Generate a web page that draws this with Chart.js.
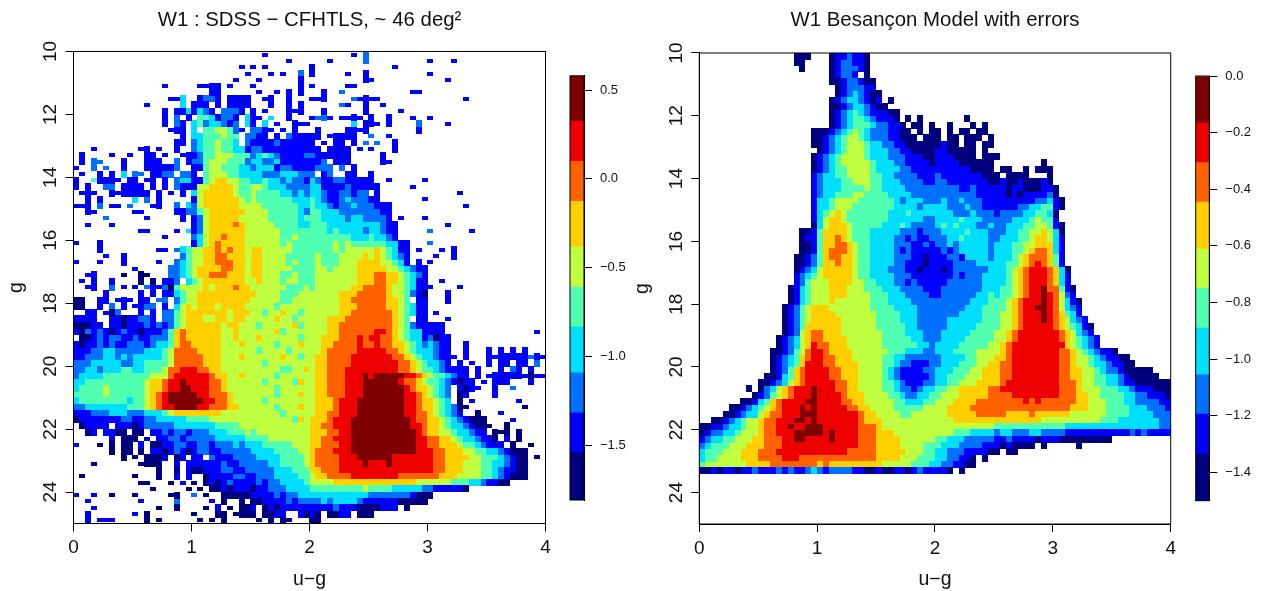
<!DOCTYPE html>
<html>
<head>
<meta charset="utf-8">
<title>W1 colour-magnitude</title>
<script src="https://cdn.jsdelivr.net/npm/chart.js@4/dist/chart.umd.js"></script>
<style>
    html, body { margin: 0; padding: 0; background: #fff; }
    #page { position: relative; width: 1276px; height: 591px; overflow: hidden; }
    canvas { position: absolute; }
</style>
</head>
<body>
<div id="page">
    <canvas id="leftHeat" width="560" height="591" style="left:0;top:0"></canvas>
    <canvas id="leftBar" width="70" height="460" style="left:560px;top:60px"></canvas>
    <canvas id="rightHeat" width="560" height="591" style="left:626px;top:0"></canvas>
    <canvas id="rightBar" width="90" height="460" style="left:1185px;top:60px"></canvas>
</div>
<script>
// colour level of each cell: '.' empty, 0-9 index into levelColors
// one string per 0.2 mag row, space separated groups of ten 0.05 wide columns
const leftRows = [
    ". . . ..1 .......1.2",
    ". . . ......1 ...1.....2 . 1...1",
    ". . ........1. 1.1 1 ....1",
    ". . .........1 ...1.1..2 1.....1..1 . 1",
    ". . .......1 .1......1 .........1 1 ...1",
    ". .....1 .1111.1 1.......1 1.....11",
    ". . ...11 .1..1.1.1 ..1..2 .......11",
    ". ......113 .1221.1111 ..11..1 111....211 11 ......1",
    ". ..1.....3 111.1.1111 ...1..1.1 .....21..1 ..1",
    ". .....1.113 1321.2221 1.1...111 ..1......1 .....1",
    ". .....1.2.1 .4431221.3 11.3..1 1221.1111 1..1...1 1",
    ". .....1.21 34233212.3 1.3.1..111 .......3.1 11.1....2 ...1",
    ". ......111 3.4455421 2211.1.1 .1....1111 ........1",
    ". ........1 33444544.2 211.1.2111 11.11111 2..1",
    ". .......11 23445443.2 1111211111 1.1.11.1.2 .2..1",
    "...1 .11.1..1 2344544331 2211111111 11.1111.1 1...1",
    ".1....1..1 ..11.1..11 1244555444 2343211112 2111111 ..1",
    ".1.22...1 ..111..2.1 2245554442 3322311111 112.111 ..11",
    "1..2.2..1 ..111112 1145544433 2333122111 1222.2.1",
    ".1..1.1.3 22.1122.22 1.45554433 3322233322 2.12..11 1",
    "1..41111.1 1.11.1.233 1145665544 3343323221 3211221111 1..1.....1",
    "1.1..22.11 11.1.1.211 1556666544 5543332222 3311112111 11.....1",
    ".111..1111 111.1.1.1 3566666544 5444433232 3321122122 .1 .....1",
    "..1.1 3.2.1 1566666654 5444444333 4321123222 11.......1",
    "111.2.11.2 ...11..2.3 2566666655 5544444433 4332122322 2111 ......1",
    "..11 11.....112 2456666665 5554444432 4433322222 2211",
    ".....2 ..1.....1 1256666655 5554444434 4433332332 2221.1...1",
    "..1...1 . 1256666765 5555444433 4443333333 33211 ...1",
    ". .11....1.3 1256666665 5555544444 4443433332 33211 2......1",
    ". .....1 2356676665 5555544544 4444444333 43321",
    "1...1 . 1356766665 5555545444 4444545444 4443311 2",
    "....1 ....11.234 5566767665 6655555444 4444545555 5654311.1 ..1.1",
    ".....1..1 ........24 5566776665 6655554444 4544455556 5654321 .1..1",
    "1...1...1 ....1..234 5566777665 6655554544 4544455566 6655431.1 1",
    ". 1.....2234 5666677665 6655555444 4554555566 6665543211",
    "..11....0 .00...2234 5667776665 6655544544 4555555566 6776654321",
    ".1.1..1 .0.0.112.3 4566666665 5655545544 4555555566 6776654311 ..1",
    "..11..2.1 1.21120455 5565666766 5555554445 4555555667 7776554311 1....1",
    ".....1 .1.1.11345 5666666666 6555544455 5555566677 7776554210 ...1",
    "00..11.111 .11.22.245 5666666666 5555544555 5555566777 7776654.11 ...1",
    "00..1.2.1 1122.1.356 5666566665 5555455555 5555566677 7776654311",
    "..11.102 .1.1.22456 6666665666 5545565545 5555566777 7777654311 .1",
    "1111..1101 1221.22456 6655665665 5555655455 5556667777 7777654.11 ...1",
    "00011.1101 1121212456 6666656655 5455555645 5556677777 7777654211 111",
    "1021210121 1011124676 6666655655 5555645555 5556677777 7887654331 111 ........1",
    ".001212211 2112224676 6666655655 5655555545 5566677787 8877654331 2011",
    "1011212112 2212334677 6666655565 5555455565 5566777787 7877665432 3211..1",
    "1112233222 2233345777 7666655555 5455554555 5567777788 8887765433 3211..1 1.1.1.1",
    "1122233232 3333345777 7766655565 5555565545 5667777888 8888776543 32111.1 1111111211",
    "2223333322 3344445777 7766655555 5545555555 5667777888 8888877654 3321.1.1 1.11.11.2",
    "2233233344 3344457788 8776655555 5555544556 5667778888 8888877654 4321111.1 ..1.21.1",
    "2333344444 4445557888 8887665565 5555455555 5667778889 8999998876 5443211.1 1111111011",
    "3344444444 4456678898 8887765555 5545555465 5667778889 9999987765 44321011.1 .111...1",
    "3444454444 4456678899 8887765555 5555455555 5667778889 9999998766 5432.1011. .1..2",
    "4444454444 4456789999 9887776555 5555455565 5667778889 9999998876 5432.01 .1",
    "3444444443 4456789999 9988776555 5545555555 5666788899 9999998876 6543.0.1 .....1",
    "2233333334 4456788999 9887776655 5555455565 5666788899 9999998876 6543200 ......0",
    "1112223332 2233345666 6666655555 5555545555 5667788899 9999998877 654321..0 ..1",
    "0111111122 1122333334 4445555555 5555555465 6667888999 9999999877 6654321000 ....1",
    ".01111.111 0122222333 3333444455 5555555555 6677888999 9999999887 6654332100 0..0",
    "..01.1100. 00.1121221 2223334445 4555555555 6667788999 9999999987 6655433211 .000.0",
    "......1.00 0.1.112212 2222333334 4445555555 6677888999 9999999988 7766543321 10.1.0",
    "1...0.0.00 .1.0011221 1221222323 3344444555 6677788999 9999999988 7766654432 111.0..0",
    "......0.00 .0.1101210 1221122222 3333444455 6777888999 9999999988 8776665544 3321000",
    "........0 0.0001.01 11.2111222 2333344445 6777788899 9999888888 8776666554 4432100.0",
    "...0 .0000..1.1 1111121122 2223344445 6777788889 8889888888 8776665554 4332100",
    ". ....0..0.1 0011122112 2222333444 6677788888 8888888888 8776665554 4321100",
    ".0 0...0..1.1 ..01111221 1222333344 5667777888 8888877777 7766655554 4321000",
    ". .00...0.1 0.01012111 1212233334 5555666666 6666666655 5555444332 1100",
    ". ...0.....0 .0.0010111 0112223333 4444444445 4444333332 2111110",
    "1..1..0 0.....00 2.0..00000 1111212233 3333333333 2222222100 0",
    "..1 .1.....2 ...1.0..0 0011112122 2232333321 1111100000",
    "...1 ....0..0 ..0.1.0.00 1.01011111 1111211100 00111.0",
    "..1 1.0 0...00.000 0.0011..10 10.0011.00 0",
    "..1.111 ..0.0 .0.0.0 .0.0.00 00"
];

const rightRows = [
    ". ......000 ..0112110",
    ". ......00 ..0122110",
    ". .......0 ..0122210",
    ". . ..01221.0",
    ". . ..00122100",
    ". . ...0122211",
    ". . ...0123210 0",
    ". . ..01233210 1.0",
    ". . ..00123321 00",
    ". . ..01234321 1100",
    ". . ..01234432 1110.0.0 .....0",
    ". . ..01234443 22110.00.0 ..0...0.0",
    ". .........0 0012345432 221100.0.0 0.0.00.00",
    ". .........0 0123455432 2211000.00 0.00.000.0",
    ". .........0 0123455543 3221100000 0100.00.00",
    ". . 0123455543 3322110000 1100000.0",
    ". .........0 1234555543 3322211100 1110000.00 0",
    ". .........0 1234555554 3332211110 1111000000 ........0",
    ". .........0 1234455554 3333221111 1111110000 .00..0.000",
    ". .........1 2334455554 4332222111 2111111100 0.0000...0",
    ". .........1 2333445554 4333222211 2211111110 0100100010",
    ". .........1 2333444454 4333322222 2222112111 1101100011 0",
    ". .........1 2334445544 4433332222 2222222111 1101011112 0",
    ". .........1 3345555444 4443233322 2322322211 1111111223 10",
    ". .........1 3345554444 4443333233 3322232211 1111223344 10",
    ". .........1 3456544444 4433343333 3332223222 1222233443 0",
    ". .........1 3566544444 4433333322 3333433322 2223334544 1",
    ". .........0 3566654444 4333432222 3434333223 2233344554 10",
    ". .......001 4666654443 3333222122 2333343332 2233445565 30",
    ". .......011 4667654443 3332212112 2233433332 2333445665 31",
    ". .......001 4667765443 3332221121 2232333332 3334455666 31",
    ". .......001 4677765443 3332121111 1212333332 3334456776 31",
    ". ......0012 4677665443 3332221101 1122133332 3334567776 41",
    ". ......0012 4667665443 3332211101 1112222333 3344567876 41",
    ". ......0123 5666665443 3322211011 1012222223 3345678887 630",
    ". ......1234 5666665443 3332221111 1112122233 3345678887 631",
    ". ......1245 5566665544 3332212111 1122222233 3345678887 631",
    ". .....01345 5566655544 4333222211 1222222233 3445678897 7410",
    ". .....01345 5566655554 4433322221 1222222334 3445678898 7521",
    ". .....01345 5565555554 4433332222 2222223334 4456788898 75310",
    ". ....012456 6655555554 4443333222 2222233344 4456788998 75321",
    ". ....012456 6665555555 4444333222 2222333344 4556788898 76431",
    ". ....012456 6666555555 4444333222 2233333344 4556788898 765321",
    ". ....012466 6666555555 4444433222 2233333444 4556788888 7654310",
    ". ....012567 7666555555 5444433322 2333334444 5567888888 8765321",
    ". ...0123567 7666655555 5444443322 2333344444 5567888888 87654321",
    ". ...0123568 7766655555 5444444332 3333444445 5678888888 88654321",
    ". ..00124578 8766665555 5544433322 3334444555 5678888888 8776543211 0",
    ". ..01234678 8776665555 5443322222 2333344555 6678888888 8776554321 100",
    ". ..01234688 8776666555 5443221112 2333444556 6778888888 8776554332 1100",
    ". ..01246788 8877666555 5432111122 3334445566 6778888888 8776655432 2100000",
    ". .001346788 8877666555 5432111112 3344455566 6778888888 8776655443 32100000",
    ". 0012356788 8887766555 5443211122 3344555666 6788888888 8777655443 3211000000",
    "........0 0235678889 8887766555 5443221233 4455666667 7888888888 8777655544 4332111000",
    ".........0 1245678889 8888766655 5544322334 4555666667 7778888888 8777665544 4433221110",
    ".......001 3467888899 8888776655 5554433344 5556666777 7777787877 7777665554 4433222211",
    ".....00123 4567888989 8888877665 5554444455 5566667777 7777777777 7776665554 4443332221",
    "....001233 5677888999 8888888766 5555445555 5566666777 7766667666 6665555554 4443333222",
    "..00123455 6778889989 8888888766 6555555555 5556666666 6666666655 5555555544 4333333322",
    "0011233455 6778898899 9888888777 6555555555 5555555555 4444444444 4433333333 3333333322",
    "0122334555 6778889999 9898888777 6665555555 5554443333 2332223322 2211111111 1112121111",
    "1233445556 6777889988 8898888777 6666555555 4433322222 1121111011 1000000000",
    "2344455566 6777888888 8888888777 6666555544 4333222211 1010000.0 ....0",
    "3444555666 7778888888 8888877777 6666655544 3322211110 0.00",
    "3445555666 7777888777 7777777777 6666555444 3322110.0",
    "4555555566 6677777777 6766666666 6555554443 3221100",
    "0010110112 1112121123 2122221100 1001101211 110.0"
];

const levelColors = ['#00007f', '#0000ff', '#0070ff', '#00dfff', '#50ffaf', '#bfff40', '#ffcf00', '#ff6000', '#ef0000', '#7f0000'];

// colour bar band edges and tick steps
const leftBreaks = [-1.808, -1.541, -1.317, -1.092, -0.834, -0.609, -0.384, -0.126, 0.099, 0.324, 0.58];
const rightBreaks = [-1.5, -1.335, -1.194, -1.055, -0.89, -0.749, -0.61, -0.445, -0.306, -0.165, 0];

const binX = 0.05;
const binY = 0.2;
const groupSize = 10;

const fontFamily = '"Liberation Sans", Arial, sans-serif';
const inkColor = '#111';

// R style box round the plot
const boxPlugin = {
    id: 'box',
    afterDraw(chart) {
        const area = chart.chartArea;
        const ctx = chart.ctx;
        ctx.save();
        ctx.strokeStyle = '#000';
        ctx.lineWidth = 1;
        ctx.strokeRect(area.left, area.top, area.right - area.left, area.bottom - area.top);
        ctx.restore();
    }
};

function cellImage(color, height) {
    let c = document.createElement('canvas');
    c.width = 6;
    c.height = height;
    let g = c.getContext('2d');
    g.fillStyle = color;
    g.fillRect(0, 0, c.width, c.height);
    return c;
}

function parseRows(rows) {
    return rows.map(function (row) {
        let cols = {};
        row.split(' ').forEach(function (group, g) {
            for (let i = 0; i < group.length; i++) {
                if (group[i] !== '.') {
                    cols[g * groupSize + i] = group[i];
                }
            }
        });
        return cols;
    });
}

function cellsForLevel(grid, level) {
    let points = [];
    grid.forEach(function (cols, r) {
        Object.keys(cols).forEach(function (key) {
            if (cols[key] !== String(level)) {
                return;
            }
            let above = r > 0 && grid[r - 1][key] !== undefined;
            let below = r < grid.length - 1 && grid[r + 1][key] !== undefined;
            points.push({ x: (Number(key) + 0.5) * binX, y: 10 + (r + 0.5) * binY, lone: !above && !below });
        });
    });
    return points;
}

function heatChart(id, rows, titleText, opts) {
    let grid = parseRows(rows);
    let datasets = levelColors.map(function (color, level) {
        let fullCell = cellImage(color, 7);
        let thinCell = cellImage(color, 4);
        return {
            data: cellsForLevel(grid, level),
            // a lone low count in the survey is thinner than a whole row
            pointStyle: function (ctx) {
                return opts.thinLone && ctx.raw && ctx.raw.lone ? thinCell : fullCell;
            },
            pointRadius: 3,
            showLine: false
        };
    });
    return new Chart(document.getElementById(id), {
        type: 'scatter',
        data: { datasets: datasets },
        options: {
            responsive: false,
            animation: false,
            events: [],
            layout: { padding: { left: 0, right: opts.right, top: 0, bottom: 0 } },
            plugins: {
                legend: { display: false },
                tooltip: { enabled: false },
                title: {
                    display: true,
                    fullSize: false,
                    text: titleText,
                    color: inkColor,
                    font: { family: fontFamily, size: 20.4, weight: 'normal', lineHeight: 1.2 },
                    padding: { top: 8.5, bottom: opts.titleGap }
                }
            },
            scales: {
                x: {
                    type: 'linear',
                    min: 0,
                    max: 4,
                    grid: { drawOnChartArea: false, tickLength: 8, tickColor: '#000' },
                    border: { color: '#000' },
                    ticks: { stepSize: 1, includeBounds: false, padding: 5, maxRotation: 0, color: inkColor, font: { family: fontFamily, size: 19 } },
                    title: { display: true, text: 'u\u2212g', color: inkColor, padding: { top: 0, bottom: 0 }, font: { family: fontFamily, size: 19.5 } },
                    afterFit(scale) { scale.height = opts.bottom; }
                },
                y: {
                    type: 'linear',
                    reverse: true,
                    min: 10,
                    max: 25,
                    grid: { drawOnChartArea: false, tickLength: 8, tickColor: '#000' },
                    border: { color: '#000' },
                    ticks: { stepSize: 2, includeBounds: false, minRotation: 90, maxRotation: 90, crossAlign: 'center', padding: 4, color: inkColor, font: { family: fontFamily, size: 19 } },
                    title: { display: true, text: 'g', color: inkColor, padding: { top: 5, bottom: 0 }, font: { family: fontFamily, size: 19.5 } },
                    afterFit(scale) { scale.width = opts.axisWidth; }
                }
            }
        },
        plugins: [boxPlugin]
    });
}

function colorBar(id, breaks, step, opts) {
    let datasets = levelColors.map(function (color, i) {
        return {
            data: [[breaks[i], breaks[i + 1]]],
            backgroundColor: color,
            borderWidth: 0,
            grouped: false,
            barPercentage: 1,
            categoryPercentage: 1
        };
    });
    return new Chart(document.getElementById(id), {
        type: 'bar',
        data: { labels: [''], datasets: datasets },
        options: {
            responsive: false,
            animation: false,
            events: [],
            layout: { padding: opts.padding },
            plugins: { legend: { display: false }, tooltip: { enabled: false } },
            scales: {
                x: { display: false },
                y: {
                    type: 'linear',
                    position: 'right',
                    min: breaks[0],
                    max: breaks[breaks.length - 1],
                    grid: { drawOnChartArea: false, tickLength: 8, tickColor: '#000' },
                    border: { color: '#000' },
                    ticks: {
                        stepSize: step,
                        includeBounds: false,
                        padding: 8,
                        color: inkColor,
                        font: { family: fontFamily, size: 13 },
                        callback(value) { return value.toFixed(1).replace('-', '\u2212'); }
                    },
                    afterFit(scale) { scale.width = opts.axisWidth; }
                }
            }
        },
        plugins: [boxPlugin]
    });
}

heatChart('leftHeat', leftRows, 'W1 : SDSS \u2212 CFHTLS, ~ 46 deg\u00b2', { right: 14.5, bottom: 67.5, axisWidth: 73.5, titleGap: 18.5, thinLone: true });
heatChart('rightHeat', rightRows, 'W1 Besan\u00e7on Model with errors', { right: 15.3, bottom: 67, axisWidth: 73.3, titleGap: 20 });
colorBar('leftBar', leftBreaks, 0.5, { padding: { left: 10, right: 0, top: 15, bottom: 20 }, axisWidth: 46 });
colorBar('rightBar', rightBreaks, 0.2, { padding: { left: 10.7, right: 0, top: 16, bottom: 19.3 }, axisWidth: 65.7 });
</script>
</body>
</html>
